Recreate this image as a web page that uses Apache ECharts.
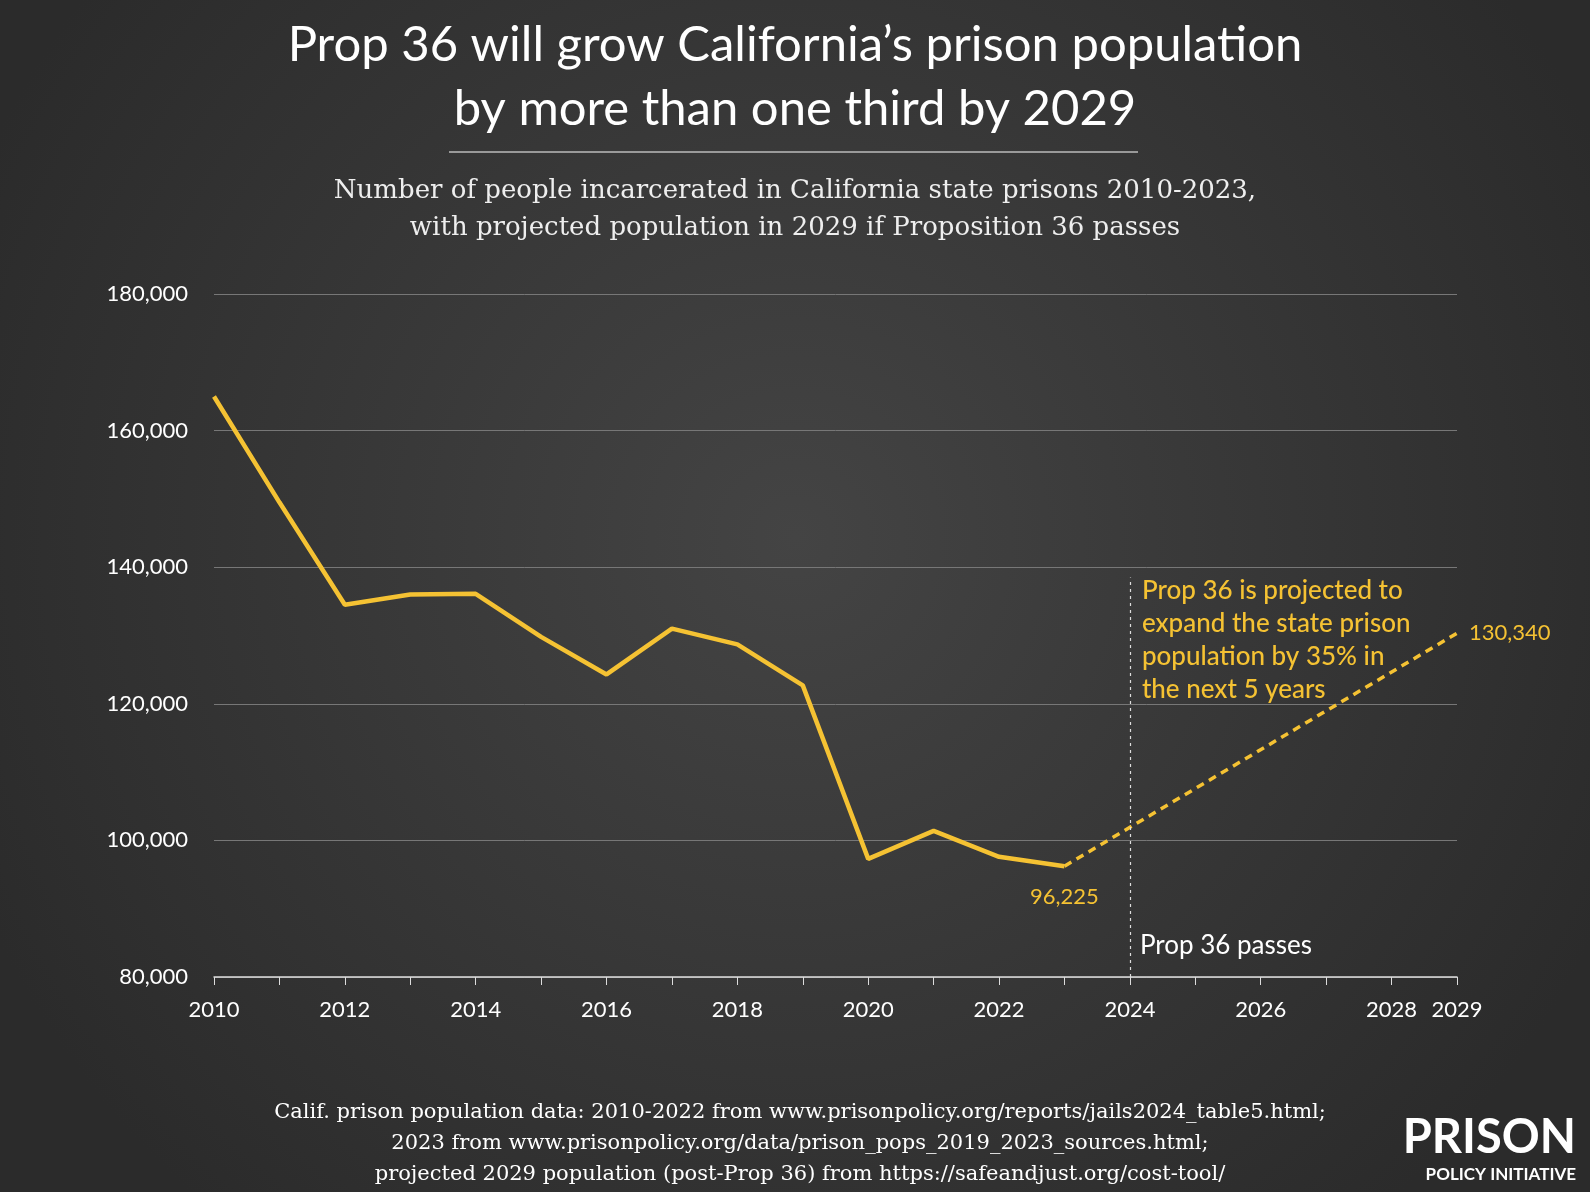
<!DOCTYPE html>
<html><head><meta charset="utf-8">
<script src="https://cdn.jsdelivr.net/npm/echarts@6/dist/echarts.min.js"></script>
<style>html,body{margin:0;padding:0;}#c{width:1590px;height:1192px;}</style>
</head><body><div id="c"></div>
<script>
const years = [2010,2011,2012,2013,2014,2015,2016,2017,2018,2019,2020,2021,2022,2023];
const population = [165000,149500,134500,136000,136100,129800,124300,131000,128700,122700,97300,101400,97600,96225];
const projYears = [2023,2029];
const projected = [96225,130340];
const passYear = 2024;
const xLabels = [2010,2012,2014,2016,2018,2020,2022,2024,2026,2028,2029];
const gold = '#f5c233';
const chart = echarts.init(document.getElementById('c'));
chart.setOption({
  backgroundColor: {type:'radial',x:0.5,y:0.45,r:0.75,colorStops:[{offset:0,color:'#444444'},{offset:1,color:'#2b2b2b'}]},
  title: [
    {text:'Prop 36 will grow California’s prison population\nby more than one third by 2029',left:'center',top:8,
     textStyle:{color:'#fff',fontFamily:'Lato',fontWeight:'normal',fontSize:49,lineHeight:64}},
    {text:'Number of people incarcerated in California state prisons 2010-2023,\nwith projected population in 2029 if Proposition 36 passes',left:'center',top:168,
     textStyle:{color:'#eee',fontFamily:'DejaVu Serif',fontWeight:'normal',fontSize:26,lineHeight:37}},
    {text:'Calif. prison population data: 2010-2022 from www.prisonpolicy.org/reports/jails2024_table5.html;\n2023 from www.prisonpolicy.org/data/prison_pops_2019_2023_sources.html;\nprojected 2029 population (post-Prop 36) from https://safeandjust.org/cost-tool/',
     left:795,textAlign:'center',top:1092,textStyle:{color:'#fff',fontFamily:'DejaVu Serif',fontWeight:'normal',fontSize:21,lineHeight:31}}
  ],
  graphic: [
    {type:'line',shape:{x1:449,y1:152,x2:1138,y2:152},style:{stroke:'#bbb',lineWidth:1.5}},
    {type:'text',right:14,top:1114,style:{text:'PRISON',fill:'#fff',font:'bold 47px Lato'}},
    {type:'text',right:14,top:1166,style:{text:'POLICY INITIATIVE',fill:'#fff',font:'bold 17px Lato'}}
  ],
  grid:{left:214,right:133,top:294,bottom:215},
  xAxis:{type:'value',min:2010,max:2029,interval:1,
    axisLine:{lineStyle:{color:'#ddd',width:1.5}},
    axisTick:{show:true,length:8,lineStyle:{color:'#ddd'}},
    splitLine:{show:false},
    axisLabel:{color:'#fff',fontFamily:'Lato',fontSize:22,margin:22,
      formatter:v=>xLabels.includes(v)?String(v):''}},
  yAxis:{type:'value',min:80000,max:180000,interval:20000,
    axisLine:{show:false},axisTick:{show:false},
    splitLine:{lineStyle:{color:'#777',width:1}},
    axisLabel:{color:'#fff',fontFamily:'Lato',fontSize:22,margin:26,
      formatter:v=>v.toLocaleString('en-US')}},
  series:[
    {type:'line',data:years.map((y,i)=>[y,population[i]]),symbol:'none',
     lineStyle:{color:gold,width:4.5},z:3,
     markLine:{silent:true,symbol:'none',
       lineStyle:{color:'#ddd',type:[3,4],width:1.2},
       label:{show:false},
       data:[[{coord:[passYear,80000]},{coord:[passYear,138500]}]]},
     markPoint:{symbolSize:0,data:[
       {coord:[2023,96225],label:{show:true,formatter:'96,225',color:gold,fontFamily:'Lato',fontSize:22,offset:[0,31]}},
       {coord:[passYear,84600],label:{show:true,formatter:'Prop 36 passes',color:'#fff',fontFamily:'Lato',fontSize:26,position:'right',distance:10}},
       {coord:[passYear,129300],label:{show:true,formatter:'Prop 36 is projected to\nexpand the state prison\npopulation by 35% in\nthe next 5 years',color:gold,fontFamily:'Lato',fontWeight:500,fontSize:26,lineHeight:33,position:'right',distance:12}}
     ]}},
    {type:'line',data:projYears.map((y,i)=>[y,projected[i]]),symbol:'none',
     lineStyle:{color:gold,width:3.5,type:[8,6]},
     markPoint:{symbolSize:0,data:[
       {coord:[2029,130340],label:{show:true,formatter:'130,340',color:gold,fontFamily:'Lato',fontSize:22,position:'right',distance:12}}]}}
  ]
});
</script></body></html>
